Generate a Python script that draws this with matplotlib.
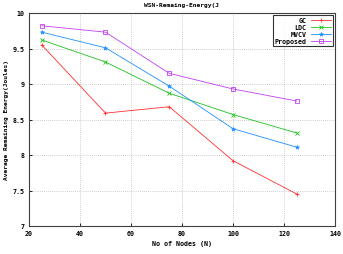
import matplotlib
matplotlib.use("Agg")
import matplotlib.pyplot as plt

nodes = [25, 50, 75, 100, 125]
gc = [9.55, 8.59, 8.68, 7.92, 7.45]
ldc = [9.62, 9.31, 8.87, 8.57, 8.31]
mvcv = [9.73, 9.51, 8.97, 8.37, 8.11]
proposed = [9.82, 9.73, 9.15, 8.93, 8.76]
xticks = [20, 40, 60, 80, 100, 120, 140]
yticks = [7, 7.5, 8, 8.5, 9, 9.5, 10]
ytick_labels = ["7", "7.5", "8", "8.5", "9", "9.5", "10"]

plt.rcParams['font.family'] = ['DejaVu Sans Mono']
plt.rcParams['font.weight'] = 'bold'

fig = plt.figure(figsize=(3.43, 2.55), dpi=100)
ax = fig.add_axes([29/343, 28/255, 306/343, 213/255])

lw = 0.6
ax.plot(nodes, gc, color='#ff3030', marker='+', ms=3, lw=lw, mew=0.6, label='GC')
ax.plot(nodes, ldc, color='#20c020', marker='x', ms=2.8, lw=lw, mew=0.6, label='LDC')
ax.plot(nodes, mvcv, color='#2090ff', marker='*', ms=3.2, lw=lw, mew=0.4, label='MVCV')
ax.plot(nodes, proposed, color='#c040f0', marker='s', ms=3, lw=lw, mew=0.6,
        mfc='none', label='Proposed')

ax.set_xlim(20, 140)
ax.set_ylim(7, 10)
ax.set_xticks(xticks)
ax.set_yticks(yticks)
ax.set_yticklabels(ytick_labels)
ax.tick_params(labelsize=4.8, length=2, width=0.6, direction='in', pad=3)
ax.grid(True, linestyle=(0, (1, 2)), color='#a0a0a0', lw=0.5)
for s in ax.spines.values():
    s.set_linewidth(0.8)
    s.set_color('#404040')

ax.set_title('WSN-Remaing-Energy(J', fontsize=4.5, fontweight='bold', pad=5)
ax.set_xlabel('No of Nodes (N)', fontsize=4.8, fontweight='bold', labelpad=3)
ax.set_ylabel('Average Remaining Energy(Joules)', fontsize=4.5, fontweight='bold', labelpad=3)

leg = ax.legend(loc='upper right', fontsize=4.8, markerfirst=False, frameon=True,
                fancybox=False, handlelength=3, borderpad=0.3, labelspacing=0.15,
                handletextpad=0.6, borderaxespad=0.35)
leg.get_frame().set_edgecolor('black')
leg.get_frame().set_linewidth(0.8)

fig.savefig('out.png', dpi=100)
